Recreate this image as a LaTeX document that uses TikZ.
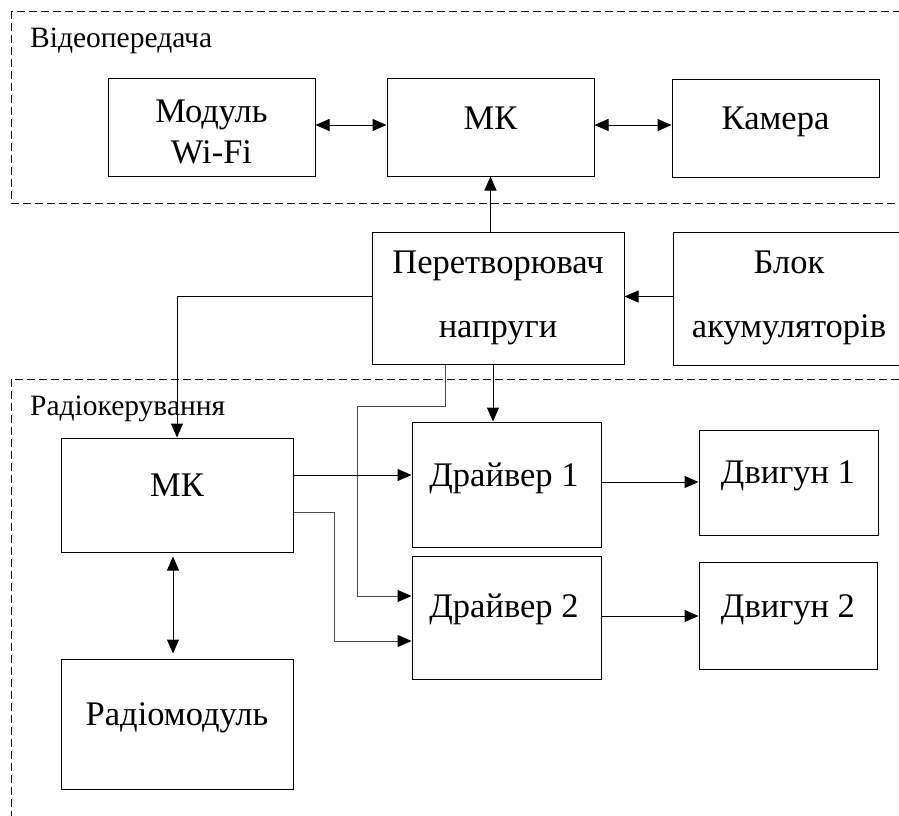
\documentclass[tikz,border=0pt]{standalone}
\usepackage{fontspec}
\setmainfont{Liberation Serif}
\usetikzlibrary{arrows.meta}
\begin{document}
\begin{tikzpicture}[x=1pt,y=-1pt,
  box/.style={draw, line width=1pt, inner sep=0pt},
  txt/.style={font=\fontsize{34.5}{41}\selectfont, align=center, anchor=base, inner sep=0pt},
  txtw/.style={font=\fontsize{34.5}{64}\selectfont, align=center, anchor=base, inner sep=0pt},
  lbl/.style={font=\fontsize{29.5}{35}\selectfont, anchor=base west, inner sep=0pt},
  region/.style={draw, line width=0.8pt, dash pattern=on 8pt off 4pt},
  arr/.style={line width=1pt, -{Triangle[length=14pt,width=12pt]}},
  darr/.style={line width=1pt, {Triangle[length=14pt,width=12pt]}-{Triangle[length=14pt,width=12pt]}},
  garr/.style={draw=black!70, line width=1pt, -{Triangle[length=14pt,width=12pt,color=black]}}
]
\useasboundingbox (0,0) rectangle (899,816);
\fill[white] (0,0) rectangle (899,816);
\clip (0,0) rectangle (899,816);

% regions
\draw[region] (11,11) rectangle (930,203);
\draw[region] (11,379) rectangle (930,840);
\node[lbl] (lvideo) at (30,48) {Відеопередача};
\node[lbl] (lradio) at (30,415) {Радіокерування};

% boxes
\node[box, minimum width=207pt, minimum height=98pt] (wifi) at (211.5,127) {};
\node[box, minimum width=207pt, minimum height=98pt] (mkT) at (490.5,127) {};
\node[box, minimum width=207pt, minimum height=98pt] (cam) at (775.5,128) {};
\node[box, minimum width=252pt, minimum height=132pt] (conv) at (498,298) {};
\node[box, minimum width=232pt, minimum height=133pt] (bat) at (789,298.5) {};
\node[box, minimum width=232pt, minimum height=114pt] (mkB) at (177,495) {};
\node[box, minimum width=189pt, minimum height=125pt] (drv1) at (506.5,484.5) {};
\node[box, minimum width=189pt, minimum height=123pt] (drv2) at (506.5,617.5) {};
\node[box, minimum width=179pt, minimum height=105pt] (mot1) at (788.5,482.5) {};
\node[box, minimum width=178pt, minimum height=107pt] (mot2) at (788,615.5) {};
\node[box, minimum width=232pt, minimum height=130pt] (radio) at (177,724) {};

% texts (base anchor = baseline of the last line)
\node[txt] (twifi) at (211.5,163) {Модуль\\Wi-Fi};
\node[txt] (tmkT) at (490.5,129) {МК};
\node[txt] (tcam) at (775.5,129) {Камера};
\node[txtw] (tconv) at (498,337) {Перетворювач\\напруги};
\node[txtw] (tbat) at (789,337) {Блок\\акумуляторів};
\node[txt] (tmkB) at (177,496) {МК};
\node[txt] (tdrv1) at (504,486) {Драйвер 1};
\node[txt] (tdrv2) at (504,617) {Драйвер 2};
\node[txt] (tmot1) at (788,483) {Двигун 1};
\node[txt] (tmot2) at (788,617) {Двигун 2};
\node[txt] (tradio) at (177,725) {Радіомодуль};

% connectors
\draw[darr] ([yshift=2pt]wifi.east) -- ([yshift=2pt]wifi.east -| mkT.west);
\draw[darr] ([yshift=2pt]mkT.east) -- ([yshift=2pt]mkT.east -| cam.west);
\draw[arr] (mkT.south |- conv.north) -- (mkT.south);
\draw[arr] ([yshift=2pt]bat.west) -- ([yshift=2pt]bat.west -| conv.east);
\draw[arr] ([yshift=2pt]conv.west) -| (mkB.north);
\draw[arr] ([xshift=-5pt]conv.south) -- ([xshift=-5pt]conv.south |- drv1.north);
\draw[garr] ([xshift=-53pt]conv.south) |- (357,406) |- ([yshift=21.5pt]drv2.west);
\draw[arr] ([yshift=20pt]mkB.east) -- ([yshift=20pt]mkB.east -| drv1.west);
\draw[garr] ([yshift=-17pt]mkB.east) -- (334,512) |- ([yshift=-23.5pt]drv2.west);
\draw[arr] ([yshift=2.5pt]drv1.east) -- ([yshift=2.5pt]drv1.east -| mot1.west);
\draw[arr] ([yshift=1.5pt]drv2.east) -- ([yshift=1.5pt]drv2.east -| mot2.west);
\draw[darr, shorten <=4pt, shorten >=5pt] ([xshift=-4pt]mkB.south) -- ([xshift=-4pt]radio.north);
\end{tikzpicture}
\end{document}
